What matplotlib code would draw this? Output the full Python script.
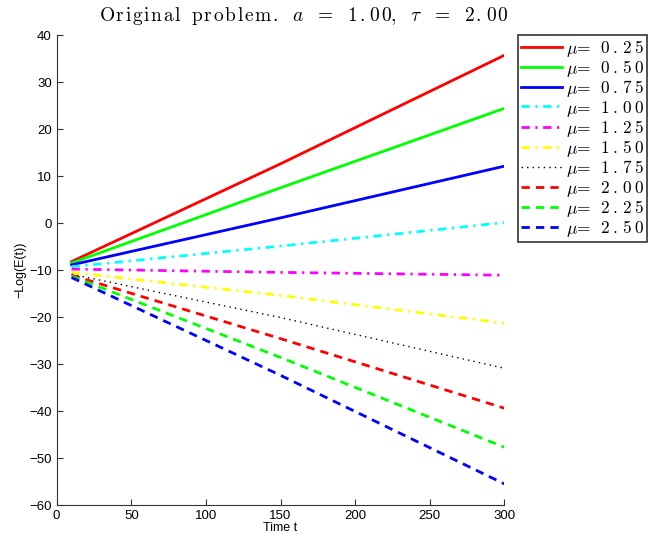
import matplotlib
matplotlib.use("Agg")
import matplotlib.pyplot as plt

# datos
t = [10, 150, 300]
mus = ["0.25", "0.50", "0.75", "1.00", "1.25", "1.50", "1.75", "2.00", "2.25", "2.50"]
y_025 = [-8.2, 12.6, 35.7]
y_050 = [-8.5, 7.5, 24.4]
y_075 = [-8.9, 1.1, 12.1]
y_100 = [-9.3, -4.9, 0.1]
y_125 = [-9.8, -10.5, -11.1]
y_150 = [-10.5, -15.4, -21.3]
y_175 = [-10.9, -20.1, -30.9]
y_200 = [-11.1, -24.6, -39.4]
y_225 = [-11.3, -28.6, -47.7]
y_250 = [-11.6, -32.4, -55.5]
series = [y_025, y_050, y_075, y_100, y_125, y_150, y_175, y_200, y_225, y_250]

colores = ["#ff0000", "#00ff00", "#0000ff", "#00ffff", "#ff00ff", "#ffff00",
           "#000000", "#ff0000", "#00ff00", "#0000ff"]
estilos = ["-", "-", "-", "-.", "-.", "-.", ":", "--", "--", "--"]
patrones = {"-.": (0, (3, 2, 0.8, 2)), ":": (0, (1, 3)), "--": (0, (3, 2.2)), "-": "-"}

plt.rcParams["mathtext.fontset"] = "cm"
plt.rcParams["font.family"] = ["Liberation Sans", "DejaVu Sans"]


def espaciado(txt, em=0.1):
    # separa las letras como en el original
    return (r"\hspace{%g}" % em).join(txt)


fig = plt.figure(figsize=(6.5, 5.39), dpi=100)
ax = fig.add_axes([0.0872, 0.063, 0.776 - 0.0872, 0.935 - 0.063])

for vals, mu, c, ls in zip(series, mus, colores, estilos):
    lw = 1.0 if ls == ":" else 2.0
    ax.plot(t, vals, color=c, linestyle=patrones[ls], linewidth=lw,
            label=r"$\mu\!=\ \hspace{0.15}%s$" % espaciado(mu, 0.18))

ax.set_xlim(0, 300)
ax.set_ylim(-60, 40)
ax.set_xticks(range(0, 301, 50))
ax.set_yticks(range(-60, 41, 10))
ax.tick_params(direction="in", labelsize=9.5, length=4, color="#333333")
ax.spines["top"].set_visible(False)
ax.spines["right"].set_visible(False)
for s in ["left", "bottom"]:
    ax.spines[s].set_color("#333333")
ax.set_xlabel("Time t", fontsize=9, labelpad=0)
ax.set_ylabel("\u2212Log(E(t))", fontsize=9, labelpad=2)

titulo = (r"$\mathrm{" + espaciado("Original") + r"\ \ " + espaciado("problem.") + r"}"
          + r"\ \ a\ \ =\ \ " + espaciado("1.00") + r",\ \ \tau\ \ =\ \ " + espaciado("2.00") + "$")
fig.text(304 / 650, 1 - 16 / 539, titulo, ha="center", va="center", fontsize=14)

leg = fig.legend(loc="upper left", bbox_to_anchor=(518 / 650, 1 - 35 / 539),
                 fontsize=12.5, frameon=True, fancybox=False, borderpad=0.15,
                 labelspacing=-0.04, handlelength=2.4, handletextpad=0.2,
                 borderaxespad=0)
leg.get_frame().set_edgecolor("black")
leg.get_frame().set_linewidth(1.2)

fig.savefig("out.png", dpi=100)
